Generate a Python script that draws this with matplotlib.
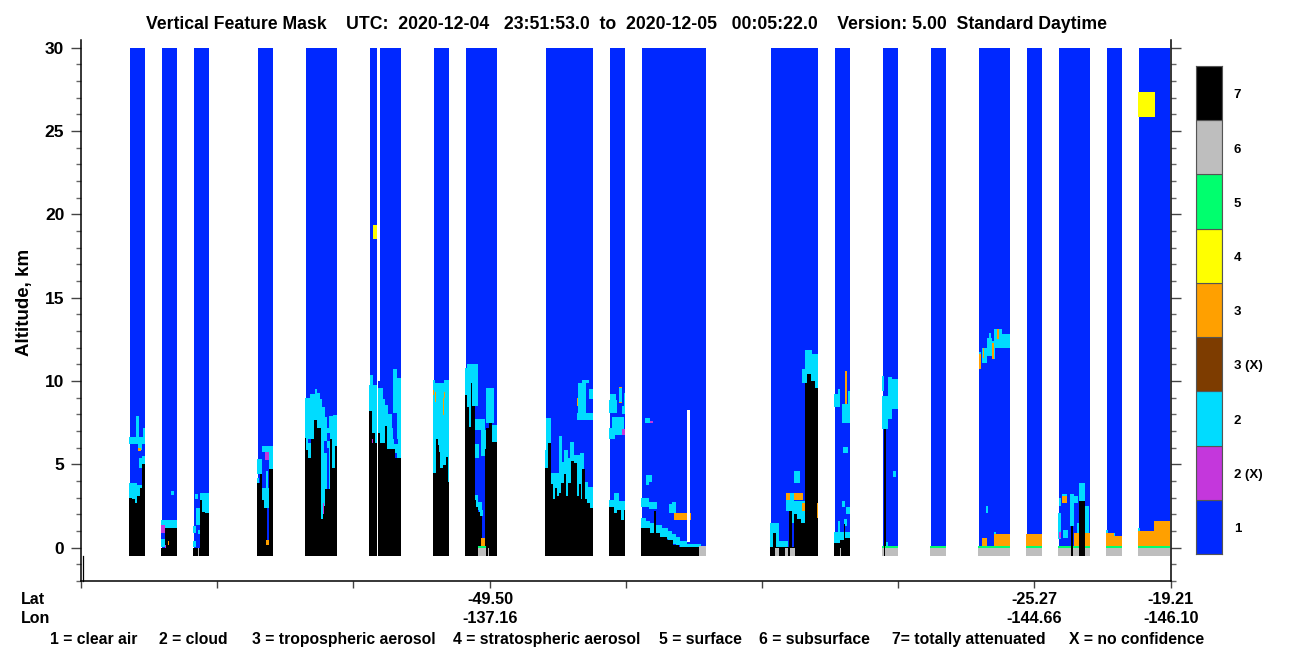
import matplotlib
matplotlib.use('Agg')
import matplotlib.pyplot as plt
from matplotlib.ticker import FixedLocator

plt.rcParams['font.family'] = ['Liberation Sans', 'DejaVu Sans']
plt.rcParams['font.weight'] = 'bold'

# ── Colours ───────────────────────────────────────────────────────────────────
BLUE, MAGENTA, CYAN, BROWN = '#0028ff', '#c437dc', '#00dcff', '#7d3c00'
ORANGE, YELLOW, GREEN, GREY, BLACK = '#ffa000', '#ffff00', '#00ff6e', '#bebebe', '#000000'

class_colors = [BLUE, MAGENTA, CYAN, BROWN, ORANGE, YELLOW, GREEN, GREY, BLACK]
class_labels = ['1', '2 (X)', '2', '3 (X)', '3', '4', '5', '6', '7']

# ── Data : x = profile position, z = altitude in km ───────────────────────────
swath_x0 = [129, 161, 193, 257, 305, 369, 433, 465, 545, 609, 641, 770, 834, 882, 930, 978, 1026, 1058, 1106, 1138]
swath_x1 = [145, 177, 209, 273, 337, 401, 449, 497, 593, 625, 706, 818, 850, 898, 946, 1010, 1042, 1090, 1122, 1170]

# (x0, x1, z0, z1)
cloud_boxes = [
    # swath 1
    (129, 137, 2.5, 3.9), (137, 142, 2.5, 3.75), (129, 145, 6.2, 6.65), (136, 139, 6.65, 7.9),
    (143, 145, 6.65, 7.15), (138, 142, 5.85, 6.2), (142, 145, 4.9, 5.5), (139, 142, 4.8, 5.35),
    # swath 2
    (161, 177, 1.15, 1.65), (161, 165, 0.05, 0.5), (171, 174, 3.15, 3.4), (168, 169, 0.4, 0.55),
    # swath 3
    (200, 209, 2.05, 3.25), (195, 198, 2.9, 3.2), (196, 200, 1.35, 2.35), (193, 196, 0.85, 1.3),
    (193, 200, 0.05, 0.4), (198, 200, 0.8, 1.05),
    # swath 4
    (257, 262, 4.4, 5.3), (257, 259, 3.85, 4.2), (260, 269, 2.85, 3.55), (263, 269, 2.35, 2.85),
    (262, 273, 5.75, 6.1), (269, 273, 4.55, 5.75), (266, 268, 3.55, 4.6), (269, 270, 0.1, 0.45),
    # swath 5
    (305, 310, 0, 9.0), (310, 315, 0, 9.2), (315, 317, 0, 9.5), (317, 320, 0, 9.3), (320, 322, 0, 8.9),
    (322, 325, 0, 8.45), (325, 327, 0, 7.85), (327, 331, 6.0, 7.2), (329, 333, 0, 7.9), (333, 337, 0, 7.95),
    # swath 6
    (369, 370, 0, 9.75), (370, 373, 0, 10.35), (373, 377, 0, 9.75), (378, 383, 0, 9.6), (383, 385, 0, 8.9),
    (385, 388, 0, 8.55), (388, 392, 0, 8.0), (387, 398, 5.7, 7.15), (393, 397, 8.1, 10.7), (397, 401, 0, 10.2),
    # swath 7
    (433, 435, 0, 10.05), (435, 444, 0, 9.9), (444, 449, 0, 10.05),
    # swath 8
    (465, 467, 0, 10.75), (467, 472, 0, 11.0), (472, 478, 8.5, 11.0), (475, 485, 7.05, 7.7), (481, 486, 5.5, 7.05),
    (473, 479, 5.35, 6.2), (486, 494, 7.5, 9.55), (490, 497, 6.35, 7.35), (473, 478, 2.75, 3.15),
    (476, 482, 2.25, 2.75), (479, 483, 1.9, 2.25), (486, 487, 5.0, 7.15), (488, 489, 5.1, 6.25),
    # swath 9
    (545, 546, 0, 5.85), (546, 551, 0, 7.75), (551, 559, 0, 4.45), (559, 562, 0, 6.7), (562, 564, 0, 5.15),
    (564, 568, 0, 5.85), (568, 570, 0, 5.4), (570, 574, 0, 6.35), (574, 580, 0, 5.55), (580, 584, 0, 5.7),
    (584, 588, 0, 3.95), (588, 593, 0, 3.65), (577, 593, 7.65, 8.05), (578, 586, 8.05, 9.85),
    (582, 589, 9.85, 10.05), (589, 593, 8.9, 9.5),
    # swath 10
    (609, 614, 0, 2.85), (614, 619, 0, 3.25), (619, 625, 0, 2.8), (609, 615, 6.5, 7.2), (612, 624, 6.75, 7.85),
    (609, 617, 8.1, 8.85), (610, 616, 8.85, 9.2), (619, 622, 8.65, 9.6), (624, 625, 8.5, 9.3), (622, 625, 8.0, 8.5),
    # swath 11
    (641, 646, 1.2, 1.8), (646, 650, 0.85, 1.6), (650, 656, 0.85, 1.45), (656, 662, 0.65, 1.35), (662, 668, 0.5, 1.15),
    (668, 672, 0.45, 1.0), (672, 676, 0.2, 0.8), (676, 680, 0.15, 0.65), (680, 687, 0.05, 0.4), (687, 701, 0.0, 0.2),
    (641, 649, 2.45, 3.0), (649, 657, 2.3, 2.75), (669, 676, 2.05, 2.6),
    (672, 676, 2.6, 2.75), (645, 650, 7.45, 7.8), (646, 652, 3.95, 4.35), (646, 649, 3.75, 3.95),
    # swath 12
    (770, 779, 0.05, 1.45), (779, 788, 0.05, 0.4), (786, 792, 2.2, 3.1), (792, 805, 1.5, 2.8), (794, 800, 3.9, 4.6),
    (790, 794, 2.8, 3.25), (802, 805, 9.9, 10.7), (805, 812, 9.9, 11.85), (812, 818, 9.5, 11.6), (817, 818, 2.65, 3.25),
    # swath 13
    (834, 850, 0.1, 0.95), (838, 840, 0.9, 1.6), (844, 847, 1.3, 1.7), (834, 840, 8.45, 9.2), (838, 840, 9.2, 9.5),
    (842, 850, 7.45, 8.6), (848, 850, 8.6, 9.4), (843, 848, 5.7, 6.05), (842, 845, 2.45, 2.8), (846, 850, 2.0, 2.45),
    # swath 14
    (882, 884, 9.4, 10.3), (882, 888, 7.1, 9.1), (888, 892, 7.7, 10.25), (892, 898, 8.3, 10.1),
    (893, 896, 4.25, 4.6), (885, 888, 0.05, 0.35),
    # swath 16
    (994, 996, 0.5, 0.95), (999, 1001, 0.45, 0.8), (986, 988, 2.1, 2.5), (979, 981, 10.7, 11.75), (982, 987, 11.1, 12.0),
    (987, 992, 11.5, 12.6), (989, 991, 12.6, 12.85), (992, 995, 11.3, 12.4), (994, 1002, 12.0, 13.1), (1002, 1010, 12.0, 12.8),
    # swath 18
    (1058, 1061, 0.5, 2.05), (1059, 1061, 2.5, 2.95), (1062, 1067, 3.1, 3.2), (1063, 1068, 0.6, 1.05), (1070, 1074, 1.3, 3.2),
    (1074, 1078, 2.65, 3.1), (1077, 1079, 0.1, 1.5), (1079, 1085, 2.8, 3.9), (1085, 1089, 0.7, 2.5),
    # swath 19, 20
    (1106, 1108, 0.8, 1.05), (1113, 1115, 0.6, 0.9), (1138, 1140, 0.6, 1.15), (1142, 1144, 0.6, 1.0), (1150, 1152, 0.6, 1.0),
    (1162, 1164, 0.6, 1.2),
]

# blue gaps inside cloud (x0, x1, z0, z1)
clear_boxes = [
    (161, 165, 0.5, 0.85), (165, 167, 0.0, 0.85), (196, 198, 0.05, 0.85), (198, 200, 0.05, 0.8),
    (324, 327, 5.7, 6.4), (327, 330, 6.4, 6.9), (308, 311, 6.25, 6.5),
    (393, 397, 6.5, 7.25), (394, 398, 6.2, 6.5), (388, 393, 8.0, 8.3),
]

# (x0, x1, top) : totally attenuated columns, bottom at the lower edge of the swath
black_cols = [
    (129, 132, 3.0), (132, 135, 2.9), (135, 137, 2.7), (137, 140, 3.1), (140, 142, 3.6), (142, 145, 5.0),
    (161, 165, 0.0), (165, 170, 1.15), (170, 177, 1.15),
    (193, 200, 0.0), (200, 202, 2.85), (202, 205, 2.15), (205, 209, 2.05),
    (257, 260, 3.85), (260, 262, 4.4), (262, 264, 2.85), (264, 267, 2.35), (267, 269, 0.35), (269, 273, 4.7),
    (305, 306, 6.6), (306, 308, 5.85), (308, 311, 5.35), (311, 314, 6.5), (314, 317, 7.65), (317, 321, 7.2),
    (321, 323, 1.7), (323, 325, 2.5), (325, 330, 3.5), (330, 332, 6.5), (332, 335, 4.8), (335, 337, 6.1),
    (369, 372, 8.2), (372, 375, 6.9), (375, 377, 6.3), (378, 380, 6.9), (380, 385, 6.3), (385, 387, 7.3),
    (387, 395, 5.9), (395, 401, 5.4),
    (433, 436, 4.45), (436, 438, 6.5), (438, 439, 6.15), (439, 440, 5.75), (440, 443, 4.75), (443, 446, 4.95),
    (446, 448, 5.45), (448, 449, 3.95),
    (465, 467, 9.15), (467, 469, 8.45), (469, 471, 7.25), (471, 472, 9.85), (472, 475, 8.5), (475, 476, 2.85),
    (476, 478, 2.45), (478, 480, 2.15), (480, 482, 1.9), (482, 485, 0.0), (485, 486, 5.9), (486, 489, 7.15),
    (489, 492, 7.5), (492, 497, 6.35),
    (545, 548, 4.75), (548, 551, 6.25), (551, 553, 3.8), (553, 555, 2.9), (555, 557, 3.6), (557, 559, 3.1),
    (559, 561, 3.3), (561, 564, 3.9), (564, 566, 4.4), (566, 568, 3.1), (568, 571, 3.9), (571, 574, 5.2),
    (574, 577, 5.05), (577, 579, 3.1), (579, 581, 3.8), (581, 582, 2.9), (582, 585, 4.7), (585, 587, 2.9),
    (587, 590, 2.7), (590, 593, 2.35),
    (609, 614, 2.45), (614, 617, 2.1), (617, 621, 2.25), (621, 624, 1.65), (624, 625, 2.25),
    (641, 650, 1.2), (650, 653, 0.85), (654, 656, 2.2), (656, 660, 0.85), (660, 667, 0.65), (667, 673, 0.45),
    (673, 679, 0.15), (679, 699, 0.05), (653, 654, 0.85),
    (770, 773, 0.05), (773, 776, 0.9), (776, 789, 0.05), (789, 792, 2.2), (792, 794, 0.05), (794, 797, 2.0),
    (797, 801, 1.7), (801, 805, 1.5), (805, 807, 9.9), (807, 811, 10.4), (811, 815, 10.0), (815, 818, 9.6),
    (834, 840, 0.3), (840, 844, 0.45), (844, 845, 1.4), (845, 850, 0.6),
    (884, 886, 7.1),
    (1071, 1073, 1.3), (1079, 1085, 2.8),
]

aerosol_boxes = [
    (138, 141, 5.8, 5.95), (168, 169, 0.15, 0.4), (266, 269, 0.15, 0.45),
    (433, 434, 9.15, 9.45), (435, 436, 8.75, 9.35), (443, 444, 7.95, 9.0), (444, 445, 9.0, 9.35),
    (481, 485, 0.05, 0.6), (577, 578, 8.5, 9.0), (619, 622, 8.65, 8.75), (619, 622, 9.55, 9.65),
    (674, 691, 1.65, 2.05),
    (786, 790, 2.85, 3.25), (794, 803, 2.85, 3.25), (802, 805, 2.2, 2.65), (817, 818, 1.8, 2.65), (845, 847, 8.6, 10.6),
    (979, 981, 10.7, 11.6), (983, 984, 11.4, 12.0), (992, 994, 11.3, 12.3), (997, 999, 12.5, 13.1),
    (982, 987, 0.0, 0.55), (994, 1010, 0.0, 0.8),
    (1026, 1042, 0.0, 0.8),
    (1062, 1067, 2.7, 3.1), (1074, 1079, 0.0, 0.9), (1085, 1090, 0.0, 0.9),
    (1106, 1114, 0.0, 0.9), (1114, 1122, 0.0, 0.7),
    (1138, 1154, 0.0, 1.0), (1154, 1170, 0.0, 1.6),
]

magenta_boxes = [
    (161, 165, 0.9, 1.35), (165, 166, 0.0, 0.15), (265, 269, 5.25, 5.75), (323, 324, 2.0, 2.65), (372, 373, 6.3, 6.5),
    (650, 653, 7.45, 7.6), (622, 625, 6.75, 7.1), (1059, 1061, 0.6, 0.95),
]

yellow_boxes = [(373, 378, 18.5, 19.35), (1138, 1155, 25.85, 27.35)]

surface_x0 = [478, 882, 930, 978, 1026, 1058, 1106, 1138, 702]
surface_x1 = [486, 898, 946, 1010, 1042, 1090, 1122, 1170, 704]

grey_boxes = [
    (478, 486, -0.5, 0.0), (488, 489, -0.5, 0.0), (198, 199, -0.5, 0.0), (699, 706, -0.5, 0.1),
    (775, 779, -0.5, 0.0), (785, 788, -0.5, 0.0), (790, 795, -0.5, 0.0), (840, 841, -0.5, 0.0),
    (882, 898, -0.5, 0.0), (930, 946, -0.5, 0.0), (978, 1010, -0.5, 0.0), (1026, 1042, -0.5, 0.0),
    (1058, 1090, -0.5, 0.0), (1106, 1122, -0.5, 0.0), (1138, 1170, -0.5, 0.0),
]

white_boxes = [(377, 380, 10.0, 30.0), (377, 378, -0.5, 10.0), (687, 690, 0.35, 8.25)]

lat_ticks = [81, 217, 353, 490, 626, 762, 898, 1034, 1171]
lat_labels = {490: ('-49.50', '-137.16'), 1034: ('-25.27', '-144.66'), 1171: ('-19.21', '-146.10')}

# ── Figure ────────────────────────────────────────────────────────────────────
W, H = 1300, 667
fig = plt.figure(figsize=(W / 100, H / 100), dpi=100, facecolor='white')
ax = fig.add_axes([81 / W, 1 - 581 / H, 1090 / W, 541 / H])
ax.set_xlim(81, 1171)
ax.set_ylim(-2.0, 30.45)


def draw(boxes, color, zorder):
    x0, x1, z0, z1 = zip(*boxes)
    ax.bar(x0, [b - a for a, b in zip(z0, z1)], [b - a for a, b in zip(x0, x1)], bottom=z0,
           align='edge', color=color, linewidth=0, antialiased=False, zorder=zorder)


# blue starts one column after the rest of the swath
draw([(a + 1, b, -0.5, 30.0) for a, b in zip(swath_x0, swath_x1)], BLUE, 1)
draw(cloud_boxes, CYAN, 2)
draw(clear_boxes, BLUE, 3)
draw([(a, b, -0.5, c) for a, b, c in black_cols], BLACK, 4)
draw(aerosol_boxes, ORANGE, 5)
draw(magenta_boxes, MAGENTA, 5)
draw(yellow_boxes, YELLOW, 5)
draw([(a, b, 0.0, 0.1) for a, b in zip(surface_x0, surface_x1)], GREEN, 6)
draw(grey_boxes, GREY, 6)
draw(white_boxes, 'white', 7)
# the attenuated columns in swaths 14 and 18 go through the surface
draw([(884, 885, -0.5, 7.1), (1071, 1073, -0.5, 1.3), (1079, 1085, -0.5, 2.8)], BLACK, 8)

ax.spines['top'].set_visible(False)
for s in ['left', 'right', 'bottom']:
    ax.spines[s].set_linewidth(1.1)

ax.set_yticks([0, 5, 10, 15, 20, 25, 30])
ax.yaxis.set_minor_locator(FixedLocator([z for z in range(-2, 31) if z % 5]))
ax.tick_params(axis='y', which='major', length=7, width=1.0, labelsize=12.5, pad=5, right=True, color='#444444')
ax.tick_params(axis='y', which='minor', length=3.5, width=1.0, right=True, color='#666666')
ax.set_xticks(lat_ticks)
ax.set_xticklabels([])
ax.tick_params(axis='x', which='major', length=5, width=1.0, color='#444444')
ax.plot([83, 83], [-2.0, -0.5], color='black', lw=0.9, clip_on=False, zorder=9)

fig.text(24 / W, 1 - 302 / H, 'Altitude, km', rotation=90, ha='center', va='center', fontsize=13.5)
fig.text(626 / W, 1 - 29 / H,
         'Vertical Feature Mask    UTC:  2020-12-04   23:51:53.0  to  2020-12-05   00:05:22.0    '
         'Version: 5.00  Standard Daytime', ha='center', va='baseline', fontsize=12.7)
fig.text(21 / W, 1 - 604 / H, 'Lat', ha='left', va='baseline', fontsize=11.5)
fig.text(21 / W, 1 - 623 / H, 'Lon', ha='left', va='baseline', fontsize=11.5)
for x, (lat, lon) in lat_labels.items():
    fig.text(x / W, 1 - 604 / H, lat, ha='center', va='baseline', fontsize=11.7)
    fig.text(x / W, 1 - 623 / H, lon, ha='center', va='baseline', fontsize=11.7)

legend_text = ['1 = clear air', '2 = cloud', '3 = tropospheric aerosol', '4 = stratospheric aerosol',
               '5 = surface', '6 = subsurface', '7= totally attenuated', 'X = no confidence']
legend_x = [50, 159, 252, 453, 659, 759, 892, 1069]
for x, s in zip(legend_x, legend_text):
    fig.text(x / W, 1 - 644 / H, s, ha='left', va='baseline', fontsize=11.3)

# colour key
cax = fig.add_axes([1196 / W, 1 - 554 / H, 26 / W, 488 / H])
cax.set_xlim(0, 1)
cax.set_ylim(0, 9)
cax.bar([0.5] * 9, [1] * 9, 1, bottom=range(9), color=class_colors, edgecolor='#555555', linewidth=0.8)
cax.set_xticks([])
cax.set_yticks([])
for s in cax.spines.values():
    s.set_color('#555555')
for i, s in enumerate(class_labels):
    cax.text(1.45, i + 0.46, s, ha='left', va='center', fontsize=9.5)

plt.savefig('out.png', dpi=100)
